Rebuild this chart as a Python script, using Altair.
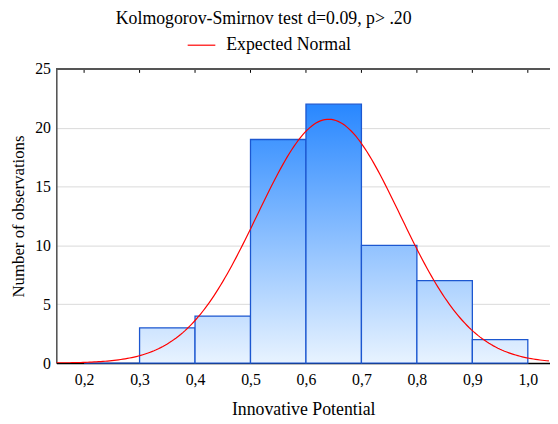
import altair as alt
import pandas as pd

# ---- data ----
bin_start = [0.2, 0.3, 0.4, 0.5, 0.6, 0.7, 0.8, 0.9]
bin_end = [0.3, 0.4, 0.5, 0.6, 0.7, 0.8, 0.9, 1.0]
counts = [0, 3, 4, 19, 22, 10, 7, 2]
x_ticks = [0.2, 0.3, 0.4, 0.5, 0.6, 0.7, 0.8, 0.9, 1.0]
y_ticks = [0, 5, 10, 15, 20, 25]
fit_mean = 0.641
fit_sd = 0.129
n_obs = sum(counts)
bin_width = 0.1
series_name = ["Expected Normal"]

FONT = "'Liberation Serif', 'Times New Roman', 'DejaVu Serif', serif"
X_DOM = [0.15, 1.04]
Y_DOM = [0, 25]

bars_df = pd.DataFrame({"start": bin_start, "end": bin_end, "count": counts})

top_rgb = (40, 135, 255)
bot_rgb = (232, 243, 255)


def color_at(v):
    t = v / 22.0
    c = [round(b + (a - b) * t) for a, b in zip(top_rgb, bot_rgb)]
    return "#%02x%02x%02x" % tuple(c)


xs = alt.Scale(domain=X_DOM, nice=False, zero=False)
ys = alt.Scale(domain=Y_DOM, nice=False)

x_axis = alt.Axis(values=x_ticks, labelExpr="replace(format(datum.value, '.1f'), '.', ',')",
                  title="Innovative Potential", grid=False, ticks=False,
                  labelFont=FONT, labelFontSize=16, labelColor="#000", labelPadding=9,
                  titleFont=FONT, titleFontSize=18, titleFontWeight="normal", titleColor="#000",
                  titlePadding=13, domainColor="#000", domainWidth=1.5)
y_axis = alt.Axis(values=y_ticks, title="Number of observations", grid=True,
                  gridColor="#d9d9d9", gridWidth=1, ticks=False,
                  labelFont=FONT, labelFontSize=16, labelColor="#000", labelPadding=6,
                  titleFont=FONT, titleFontSize=17, titleFontWeight="normal", titleColor="#000",
                  titlePadding=7, domainColor="#000", domainWidth=1)

X_ENC_ARGS = dict(scale=xs, axis=x_axis)
Y_ENC_ARGS = dict(scale=ys, axis=y_axis)

layers = []
for i in range(len(counts)):
    v = counts[i]
    grad = alt.Gradient(
        gradient="linear", x1=0, y1=1, x2=0, y2=0,
        stops=[alt.GradientStop(offset=0, color=color_at(0)),
               alt.GradientStop(offset=1, color=color_at(max(v, 0.001)))],
    )
    layers.append(
        alt.Chart(bars_df).transform_filter(alt.datum.start == bin_start[i])
        .mark_rect(fill=grad, stroke="#1c57d0", strokeWidth=1.3)
        .encode(
            x=alt.X("start:Q", **X_ENC_ARGS),
            x2="end:Q",
            y=alt.Y("count:Q", **Y_ENC_ARGS),
            y2=alt.datum(0),
        )
    )

curve = (
    alt.Chart(alt.sequence(0.15, 1.04, 0.004, as_="x"))
    .transform_calculate(
        y=f"{n_obs} * {bin_width} * densityNormal(datum.x, {fit_mean}, {fit_sd})",
        series=f"'{series_name[0]}'",
    )
    .mark_line(strokeWidth=1.2, clip=True)
    .encode(
        x=alt.X("x:Q", **X_ENC_ARGS),
        y=alt.Y("y:Q", **Y_ENC_ARGS),
        color=alt.Color("series:N", scale=alt.Scale(domain=series_name, range=["#ff0000"]),
                        legend=alt.Legend(orient="none", legendX=132, legendY=-39, title=None,
                                          symbolType="stroke", symbolSize=784, symbolStrokeWidth=1.2,
                                          labelFont=FONT, labelFontSize=18, labelColor="#000",
                                          labelOffset=10)),
    )
)

tick_df = pd.DataFrame({"t": x_ticks})
top_ticks = alt.Chart(tick_df).mark_rule(color="#000", strokeWidth=1).encode(
    x=alt.X("t:Q", **X_ENC_ARGS), y=alt.value(0), y2=alt.value(4)
)
top_border = alt.Chart(tick_df).mark_rule(color="#555", strokeWidth=2).encode(
    x=alt.value(0), x2=alt.value(500), y=alt.value(0)
)

chart = (
    alt.layer(*layers, curve, top_ticks, top_border)
    .properties(
        width=500, height=298,
        autosize=alt.AutoSizeParams(type="none"),
        padding={"left": 49, "top": 59, "right": 0, "bottom": 58},
        title=alt.TitleParams("Kolmogorov-Smirnov test d=0.09, p> .20", font=FONT, fontSize=18,
                              fontWeight="normal", color="#000", anchor="middle", dx=-40, offset=2),
    )
    .configure_view(stroke=None)
    .configure(background="white")
)

chart.save("out.html", embed_options={"renderer": "svg", "actions": False})
